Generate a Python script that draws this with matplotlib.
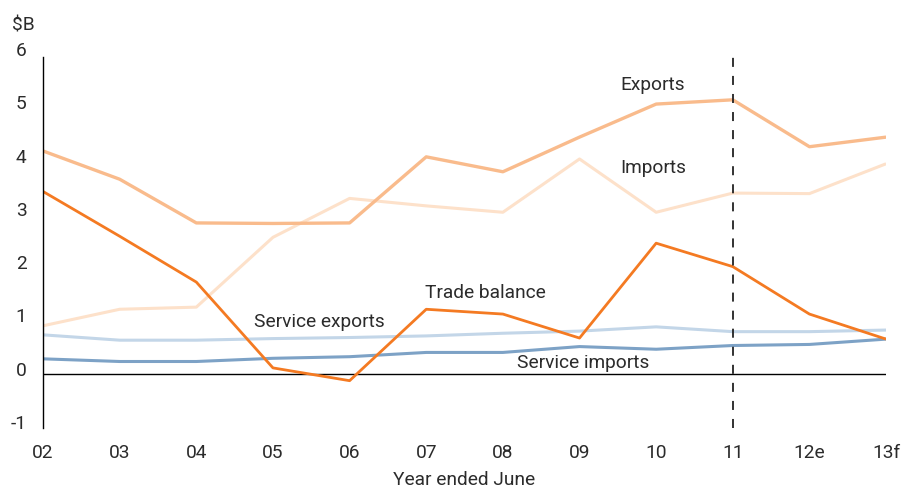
import matplotlib
matplotlib.use("Agg")
import matplotlib.pyplot as plt
import matplotlib.transforms as mtransforms

plt.rcParams["font.family"] = ["Roboto", "DejaVu Sans"]
plt.rcParams["axes.unicode_minus"] = False

years = ["02", "03", "04", "05", "06", "07", "08", "09", "10", "11", "12e", "13f"]
exports = [4.19, 3.66, 2.84, 2.83, 2.84, 4.08, 3.80, 4.45, 5.07, 5.15, 4.27, 4.45]
imports = [0.91, 1.22, 1.26, 2.57, 3.30, 3.16, 3.04, 4.04, 3.04, 3.40, 3.39, 3.95]
trade_balance = [3.43, 2.59, 1.73, 0.12, -0.12, 1.22, 1.13, 0.68, 2.46, 2.02, 1.13, 0.66]
service_exports = [0.74, 0.64, 0.64, 0.67, 0.69, 0.72, 0.77, 0.81, 0.89, 0.80, 0.80, 0.83]
service_imports = [0.29, 0.24, 0.24, 0.30, 0.33, 0.41, 0.41, 0.52, 0.47, 0.54, 0.56, 0.66]

text_col = "#2b2b2b"
fs = 13.8
x = list(range(len(years)))

fig = plt.figure(figsize=(9.1, 4.88), dpi=100)
ax = fig.add_axes([0.0473, 0.1238, 0.9264, 0.7645])

ax.plot(x, service_exports, color="#c3d6e8", lw=2.2, solid_capstyle="butt")
ax.plot(x, service_imports, color="#7da2c6", lw=2.2, solid_capstyle="butt")
ax.plot(x, imports, color="#fde1ca", lw=2.2, solid_capstyle="butt")
ax.plot(x, exports, color="#f9bb8c", lw=2.4, solid_capstyle="butt")
ax.plot(x, trade_balance, color="#f47a22", lw=2.0, solid_capstyle="butt")

ax.axhline(0, color="black", lw=1.0, zorder=1)
ax.axvline(years.index("11"), ymin=0, ymax=0.993, color="#222222", lw=1.3,
           ls=(0, (5, 5)))

ax.set_xlim(0, len(years) - 1)
ax.set_ylim(-1, 6)
ax.set_xticks(x)
ax.set_xticklabels(years)
ax.set_yticks(range(-1, 7))
ax.tick_params(axis="both", length=0, labelsize=fs, colors=text_col)
ax.tick_params(axis="x", pad=12)
ax.tick_params(axis="y", pad=12)
up = mtransforms.ScaledTranslation(0, 4 / 72, fig.dpi_scale_trans)
for lab in ax.get_yticklabels():
    lab.set_transform(lab.get_transform() + up)
for s in ("top", "right", "bottom"):
    ax.spines[s].set_visible(False)
ax.spines["left"].set_color("black")
ax.spines["left"].set_linewidth(1.0)
ax.spines["left"].set_bounds(-1, 5.95)

ax.set_xlabel("Year ended June", fontsize=fs, color=text_col, labelpad=6)
fig.text(0.026, 0.948, "$B", fontsize=fs, color=text_col, ha="center", va="center")

lab_kw = dict(fontsize=fs, color=text_col, ha="center", va="center")
ax.text(7.96, 5.43, "Exports", **lab_kw)
ax.text(7.96, 3.87, "Imports", **lab_kw)
ax.text(5.77, 1.53, "Trade balance", **lab_kw)
ax.text(3.60, 0.98, "Service exports", **lab_kw)
ax.text(7.05, 0.21, "Service imports", **lab_kw)

fig.savefig("out.png", dpi=100)
